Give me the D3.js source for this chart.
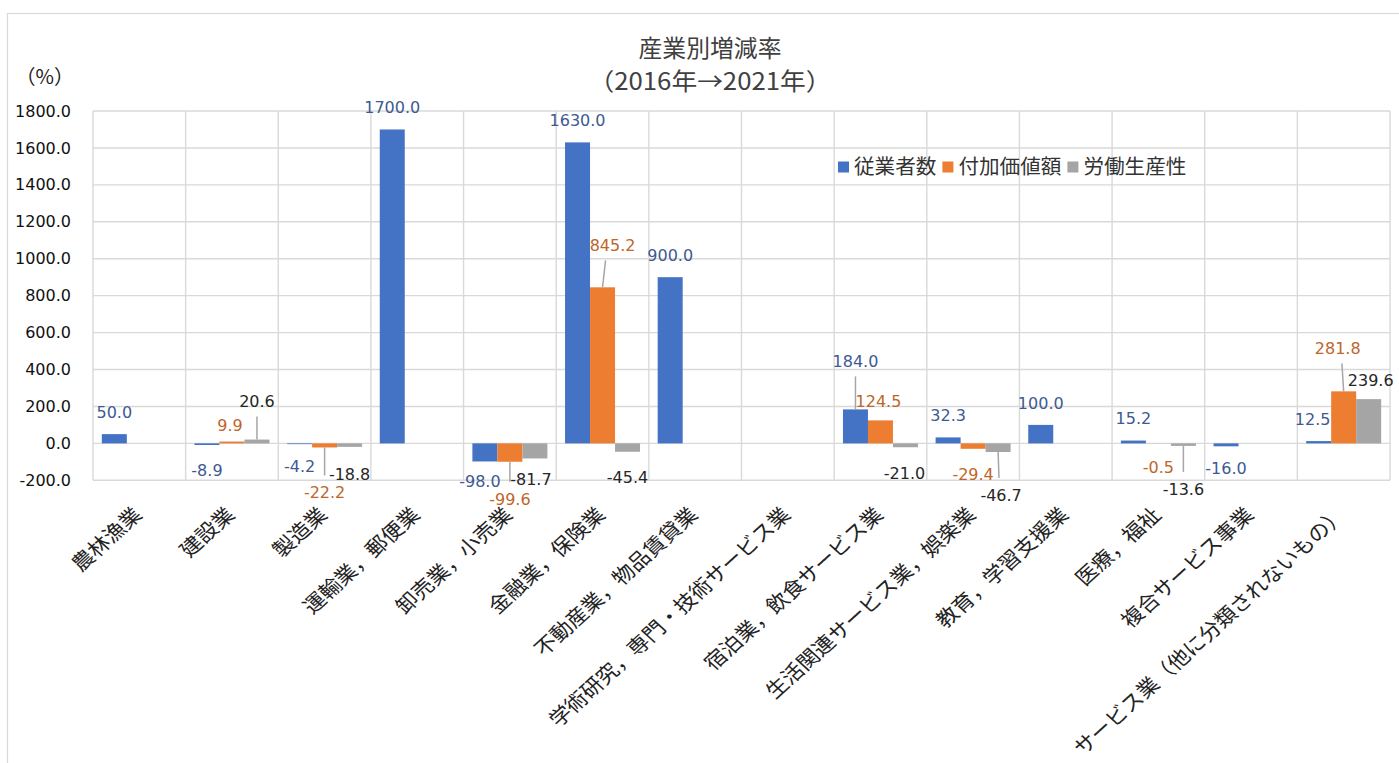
<!DOCTYPE html>
<html><head><meta charset="utf-8">
<script src="https://cdn.jsdelivr.net/npm/d3@7"></script>
<style>
html,body{margin:0;padding:0;background:#fff;overflow:hidden;}
svg{display:block;}
</style></head>
<body>
<svg id="chart" width="1399" height="763"></svg>
<script>
// ---------- data ----------
const categories = [
  "農林漁業","建設業","製造業","運輸業，郵便業","卸売業，小売業","金融業，保険業",
  "不動産業，物品賃貸業","学術研究，専門・技術サービス業","宿泊業，飲食サービス業",
  "生活関連サービス業，娯楽業","教育，学習支援業","医療，福祉","複合サービス事業",
  "サービス業（他に分類されないもの）"
];
const seriesNames = ["従業者数","付加価値額","労働生産性"];
const employees    = [50.0, -8.9, -4.2, 1700.0, -98.0, 1630.0, 900.0, null, 184.0, 32.3, 100.0, 15.2, -16.0, 12.5];
const valueAdded   = [null, 9.9, -22.2, null, -99.6, 845.2, null, null, 124.5, -29.4, null, -0.5, null, 281.8];
const productivity = [null, 20.6, -18.8, null, -81.7, -45.4, null, null, -21.0, -46.7, null, -13.6, null, 239.6];
const yTicks = [-200, 0, 200, 400, 600, 800, 1000, 1200, 1400, 1600, 1800];
const titleLines = ["産業別増減率", "（2016年→2021年）"];
const unitLabel = "（%）";

// ---------- layout / style (not data) ----------
const colors = ["#4472C4", "#ED7D31", "#A5A5A5"];
const labelColors = ["#3D5A91", "#C0652A", "#262626"];
// manual label nudges [dx, dy] keyed "series-category", and which labels get leader lines
const labelNudge = {
  "0-1":[0,3], "0-4":[-5,-2], "0-8":[0,-26], "0-13":[-6,0],
  "1-1":[-2,6], "1-2":[0,23], "1-4":[0,15], "1-5":[10,-20], "1-8":[-2,3], "1-9":[0,3], "1-11":[0,2], "1-13":[-6,-21],
  "2-1":[0,-16], "2-2":[0,5], "2-4":[-4,-1], "2-5":[0,3], "2-8":[-1,4], "2-9":[3,21], "2-11":[0,21], "2-13":[2,3]
};
const leaders = ["0-8","1-2","1-4","1-5","1-13","2-1","2-9","2-11"];

const FONT_NUM = "'DejaVu Sans', 'Liberation Sans', sans-serif";
const FONT_JP = "'Noto Sans CJK JP', 'Noto Sans', sans-serif";
const fmt = v => v.toFixed(1);   // plain hyphen minus as in the reference

const svg = d3.select("#chart");
const W = 1399, H = 763;
const plot = {left: 93, right: 1390, top: 111, bottom: 480.3};

// chart frame
svg.append("rect").attr("x", 7.5).attr("y", 13.5).attr("width", W).attr("height", H)
  .attr("fill", "#fff").attr("stroke", "#D9D9D9").attr("stroke-width", 1.2);

const y = d3.scaleLinear().domain([-200, 1800]).range([plot.bottom, plot.top]);
const x0 = d3.scaleBand().domain(d3.range(categories.length)).range([plot.left, plot.right]).padding(0);
const x1 = d3.scaleBand().domain(d3.range(seriesNames.length)).range([0, x0.bandwidth()])
  .paddingInner(0).paddingOuter(0.353);

// horizontal gridlines
const g = svg.append("g");
g.selectAll("line.h").data(yTicks).join("line")
  .attr("x1", plot.left).attr("x2", plot.right)
  .attr("y1", d => y(d)).attr("y2", d => y(d))
  .attr("stroke", "#D9D9D9").attr("stroke-width", 1.4);
// vertical gridlines at category boundaries
const bounds = d3.range(categories.length + 1).map(i => i === categories.length ? plot.right : x0(i));
g.selectAll("line.v").data(bounds).join("line")
  .attr("x1", d => d).attr("x2", d => d)
  .attr("y1", plot.top).attr("y2", plot.bottom)
  .attr("stroke", "#D9D9D9").attr("stroke-width", 1.4);

// y axis (labels only)
const yAxis = d3.axisLeft(y).tickValues(yTicks).tickFormat(fmt).tickSize(0).tickPadding(22);
const ya = svg.append("g").attr("transform", `translate(${plot.left},0)`).call(yAxis);
ya.select(".domain").remove();
ya.selectAll("text").attr("font-family", FONT_NUM).attr("font-size", 16).attr("fill", "#111");

// unit
svg.append("text").attr("x", 74).attr("y", 84).attr("text-anchor", "end")
  .attr("font-family", FONT_JP).attr("font-size", 20).attr("fill", "#222").text(unitLabel);

// title
svg.append("text").attr("x", 710).attr("y", 57).attr("text-anchor", "middle")
  .attr("font-family", FONT_JP).attr("font-size", 24).attr("fill", "#404040")
  .attr("textLength", 143).attr("lengthAdjust", "spacingAndGlyphs").text(titleLines[0]);
svg.append("text").attr("x", 710).attr("y", 90).attr("text-anchor", "middle")
  .attr("font-family", FONT_JP).attr("font-size", 24).attr("fill", "#404040")
  .attr("textLength", 243).attr("lengthAdjust", "spacingAndGlyphs").text(titleLines[1]);

// bars
const allSeries = [employees, valueAdded, productivity];
const barData = [];
allSeries.forEach((vals, s) => vals.forEach((v, i) => { if (v !== null) barData.push({s, i, v}); }));

svg.append("g").selectAll("rect").data(barData).join("rect")
  .attr("x", d => x0(d.i) + x1(d.s))
  .attr("width", x1.bandwidth())
  .attr("y", d => y(Math.max(0, d.v)))
  .attr("height", d => Math.abs(y(d.v) - y(0)))
  .attr("fill", d => colors[d.s]);

// labels
function labelPos(d) {
  const cx = x0(d.i) + x1(d.s) + x1.bandwidth() / 2;
  const nud = labelNudge[`${d.s}-${d.i}`] || [0, 0];
  const cy = d.v >= 0 ? y(d.v) - 22 : y(d.v) + 22;
  return {bx: cx, by: y(d.v), lx: cx + nud[0], ly: cy + nud[1]};
}
// leader lines
svg.append("g").selectAll("line").data(barData.filter(d => leaders.includes(`${d.s}-${d.i}`))).join("line")
  .each(function(d) {
    const p = labelPos(d);
    const edge = d.v >= 0 ? p.ly + 15 : p.ly - 17;
    d3.select(this).attr("x1", p.bx).attr("y1", p.by)
      .attr("x2", p.bx + (p.lx - p.bx) * 0.3).attr("y2", edge);
  })
  .attr("stroke", "#A6A6A6").attr("stroke-width", 1.5);

svg.append("g").selectAll("text").data(barData).join("text")
  .attr("x", d => labelPos(d).lx)
  .attr("y", d => labelPos(d).ly)
  .attr("dy", "0.36em")
  .attr("text-anchor", "middle")
  .attr("font-family", FONT_NUM).attr("font-size", 16)
  .attr("fill", d => labelColors[d.s])
  .text(d => fmt(d.v));

// category labels, rotated -45 (slightly stretched horizontally like the reference)
svg.append("g").selectAll("text").data(categories).join("text")
  .attr("transform", (d, i) => `translate(${x0(i) + x0.bandwidth() / 2 + 4},${516}) scale(1.1,1) rotate(-45)`)
  .attr("text-anchor", "end")
  .attr("font-family", FONT_JP).attr("font-size", 20).attr("fill", "#222")
  .text(d => d);

// legend
const leg = svg.append("g").attr("transform", "translate(838,167)");
let lx = 0;
seriesNames.forEach((name, s) => {
  leg.append("rect").attr("x", lx).attr("y", -5.5).attr("width", 11).attr("height", 11).attr("fill", colors[s]);
  const t = leg.append("text").attr("x", lx + 16).attr("y", 0).attr("dy", "0.36em")
    .attr("font-family", FONT_JP).attr("font-size", 20).attr("fill", "#333").text(name);
  const w = t.node().getComputedTextLength() * 1.03;
  t.attr("textLength", w).attr("lengthAdjust", "spacingAndGlyphs");
  lx += 16 + w + 6;
});
</script>
</body></html>
